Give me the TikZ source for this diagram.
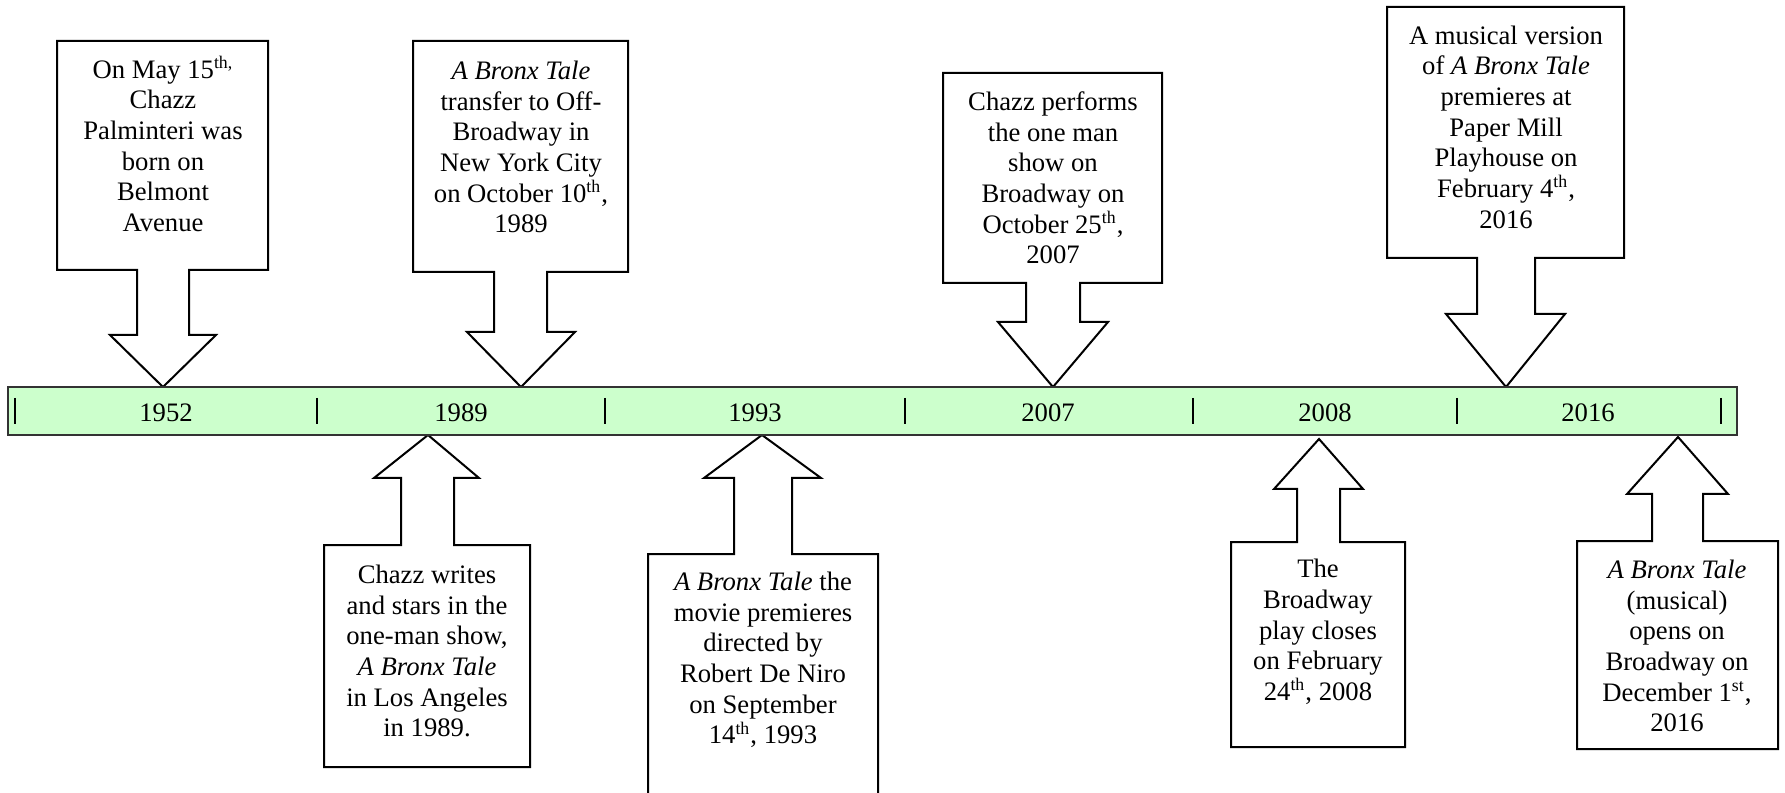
\documentclass[tikz,border=0pt]{standalone}
\usepackage{fontspec}
\setmainfont{Liberation Serif}
\definecolor{barfill}{HTML}{CCFFCC}
\newcommand{\sups}[1]{\smash{\textsuperscript{#1}}}
\tikzset{
  outline/.style={draw=black, line width=0.9pt, fill=white, line join=miter},
  txt/.style={align=center, font=\fontsize{12}{13.8}\selectfont, inner sep=0pt},
  yr/.style={font=\fontsize{12}{13.8}\selectfont, inner sep=0pt},
  tickmark/.style={line width=1.1pt},
  barstyle/.style={draw=black!80, line width=0.9pt, fill=barfill}
}
\begin{document}
\begin{tikzpicture}[x=0.45pt, y=-0.45pt]
\useasboundingbox (0,0) rectangle (1785,793);

% down callouts (above the bar)
\draw[outline] (57,41) -- (268,41) -- (268,270) -- (189,270) -- (189,335) -- (216,335) -- (163,387) -- (110,335) -- (137,335) -- (137,270) -- (57,270) -- cycle;
\draw[outline] (413,41) -- (628,41) -- (628,272) -- (547,272) -- (547,332) -- (575,332) -- (521,387) -- (467,332) -- (494,332) -- (494,272) -- (413,272) -- cycle;
\draw[outline] (943,73) -- (1162,73) -- (1162,283) -- (1080,283) -- (1080,322) -- (1108,322) -- (1053,387) -- (998,322) -- (1026,322) -- (1026,283) -- (943,283) -- cycle;
\draw[outline] (1387,7) -- (1624,7) -- (1624,258) -- (1535,258) -- (1535,314) -- (1565,314) -- (1506,387) -- (1446,314) -- (1477,314) -- (1477,258) -- (1387,258) -- cycle;

% up callouts (below the bar)
\draw[outline] (324,545) -- (401,545) -- (401,478) -- (374,478) -- (428,435) -- (479,478) -- (454,478) -- (454,545) -- (530,545) -- (530,767) -- (324,767) -- cycle;
\draw[outline] (648,554) -- (734,554) -- (734,478) -- (704,478) -- (762,435) -- (821,478) -- (792,478) -- (792,554) -- (878,554) -- (878,805) -- (648,805) -- cycle;
\draw[outline] (1231,542) -- (1297,542) -- (1297,489) -- (1274,489) -- (1319,439) -- (1363,489) -- (1340,489) -- (1340,542) -- (1405,542) -- (1405,747) -- (1231,747) -- cycle;
\draw[outline] (1577,541) -- (1652,541) -- (1652,494) -- (1627,494) -- (1678,437) -- (1728,494) -- (1703,494) -- (1703,541) -- (1778,541) -- (1778,749) -- (1577,749) -- cycle;

% timeline bar
\draw[barstyle] (8,387) rectangle (1737,435);
\foreach \tx in {15,317,605,905,1193,1457,1721}
  \draw[tickmark] (\tx,398) -- (\tx,424);
\node[yr] (y1952) at (166,413) {1952};
\node[yr] (y1989) at (461,413) {1989};
\node[yr] (y1993) at (755,413) {1993};
\node[yr] (y2007) at (1048,413) {2007};
\node[yr] (y2008) at (1325,413) {2008};
\node[yr] (y2016) at (1588,413) {2016};

% texts
\node[txt] (t1) at (163,146) {On May 15\sups{th,}\\ Chazz\\ Palminteri was\\ born on\\ Belmont\\ Avenue};
\node[txt] (t2) at (521,147) {\textit{A Bronx Tale}\\ transfer to Off-\\ Broadway in\\ New York City\\ on October 10\sups{th},\\ 1989};
\node[txt] (t3) at (1053,178) {Chazz performs\\ the one man\\ show on\\ Broadway on\\ October 25\sups{th},\\ 2007};
\node[txt] (t4) at (1506,127) {A musical version\\ of \textit{A Bronx Tale}\\ premieres at\\ Paper Mill\\ Playhouse on\\ February 4\sups{th},\\ 2016};
\node[txt] (t5) at (427,651) {Chazz writes\\ and stars in the\\ one-man show,\\ \textit{A Bronx Tale}\\ in Los Angeles\\ in 1989.};
\node[txt] (t6) at (763,660) {\textit{A Bronx Tale} the\\ movie premieres\\ directed by\\ Robert De Niro\\ on September\\ 14\sups{th}, 1993};
\node[txt] (t7) at (1318,632) {The\\ Broadway\\ play closes\\ on February\\ 24\sups{th}, 2008};
\node[txt] (t8) at (1677,646) {\textit{A Bronx Tale}\\ (musical)\\ opens on\\ Broadway on\\ December 1\sups{st},\\ 2016};
\end{tikzpicture}
\end{document}
